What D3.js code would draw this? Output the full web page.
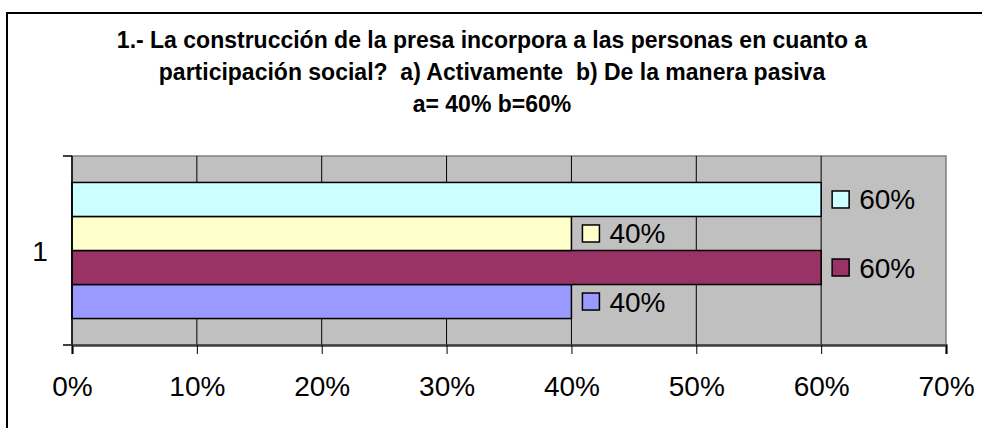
<!DOCTYPE html>
<html>
<head>
<meta charset="utf-8">
<script src="https://cdn.jsdelivr.net/npm/d3@7"></script>
<style>
  body { margin: 0; background: #fff; }
  svg { display: block; font-family: "Liberation Sans", Arial, sans-serif; }
</style>
</head>
<body>
<script>
// chart data (series listed bottom to top, like excel draws them)
const categories = ["1"];
const seriesNames = ["Serie1", "Serie2", "Serie3", "Serie4"];
const seriesValues = [40, 60, 40, 60];
const seriesColors = ["#9999ff", "#993366", "#ffffcc", "#ccffff"];
const xTicks = [0, 10, 20, 30, 40, 50, 60, 70];
const titleLines = [
  "1.- La construcción de la presa incorpora a las personas en cuanto a",
  "participación social?  a) Activamente  b) De la manera pasiva",
  "a= 40% b=60%"
];

const width = 982;
const height = 428;
const plot = { left: 72, right: 946, top: 156, bottom: 345 };

const svg = d3.select("body")
  .append("svg")
  .attr("width", width)
  .attr("height", height);

// outer frame of the chart
svg.append("rect")
  .attr("x", 7)
  .attr("y", 13)
  .attr("width", 1000)
  .attr("height", 500)
  .attr("fill", "#fff")
  .attr("stroke", "#000")
  .attr("stroke-width", 2);

// title
svg.append("g")
  .selectAll("text")
  .data(titleLines)
  .join("text")
  .attr("x", 492)
  .attr("y", (d, i) => 48 + i * 32)
  .attr("text-anchor", "middle")
  .attr("font-size", "23px")
  .attr("font-weight", "bold")
  .attr("fill", "#000")
  .style("white-space", "pre")
  .attr("xml:space", "preserve")
  .text((d) => d);

const x = d3.scaleLinear()
  .domain([0, 70])
  .range([plot.left, plot.right]);

const y = d3.scaleBand()
  .domain(categories)
  .range([plot.top, plot.bottom]);

// plot background
svg.append("rect")
  .attr("x", plot.left)
  .attr("y", plot.top)
  .attr("width", plot.right - plot.left)
  .attr("height", plot.bottom - plot.top)
  .attr("fill", "#c0c0c0")
  .attr("stroke", "#808080")
  .attr("stroke-width", 1.5);

// vertical gridlines
svg.append("g")
  .selectAll("line")
  .data(xTicks.slice(1, -1))
  .join("line")
  .attr("x1", (d) => x(d))
  .attr("x2", (d) => x(d))
  .attr("y1", plot.top)
  .attr("y2", plot.bottom)
  .attr("stroke", "#000")
  .attr("stroke-width", 1);

// bars, stacked inside the category band from the bottom up
const bars = seriesNames.map((s, i) => ({ name: s, value: seriesValues[i], color: seriesColors[i] }));
const bandH = (plot.bottom - plot.top) * 0.72 / bars.length;
const bandBottom = y(categories[0]) + y.bandwidth() * 0.86;

svg.append("g")
  .selectAll("rect")
  .data(bars)
  .join("rect")
  .attr("x", x(0))
  .attr("y", (d, i) => bandBottom - (i + 1) * bandH)
  .attr("width", (d) => x(d.value) - x(0))
  .attr("height", bandH)
  .attr("fill", (d) => d.color)
  .attr("stroke", "#000")
  .attr("stroke-width", 1.5);

// data labels with legend key
const labels = svg.append("g")
  .selectAll("g")
  .data(bars)
  .join("g")
  .attr("transform", (d, i) => {
    const cy = bandBottom - (i + 0.5) * bandH;
    return `translate(${x(d.value) + 10},${cy})`;
  });

labels.append("rect")
  .attr("x", 1)
  .attr("y", -8.5)
  .attr("width", 17)
  .attr("height", 17)
  .attr("fill", (d) => d.color)
  .attr("stroke", "#000")
  .attr("stroke-width", 1.5);

labels.append("text")
  .attr("x", 28)
  .attr("y", 10)
  .attr("font-size", "28px")
  .attr("fill", "#000")
  .text((d) => d.value + "%");

// left axis
svg.append("line")
  .attr("x1", plot.left)
  .attr("x2", plot.left)
  .attr("y1", plot.top)
  .attr("y2", plot.bottom)
  .attr("stroke", "#000")
  .attr("stroke-width", 1.5);

svg.append("g")
  .selectAll("line")
  .data([plot.top, plot.bottom])
  .join("line")
  .attr("x1", plot.left - 9)
  .attr("x2", plot.left)
  .attr("y1", (d) => d)
  .attr("y2", (d) => d)
  .attr("stroke", "#000")
  .attr("stroke-width", 1.5);

svg.append("text")
  .attr("x", 40)
  .attr("y", y(categories[0]) + y.bandwidth() / 2 + 10)
  .attr("text-anchor", "middle")
  .attr("font-size", "28px")
  .attr("fill", "#000")
  .text(categories[0]);

// bottom axis
const xAxis = d3.axisBottom(x)
  .tickValues(xTicks)
  .tickSize(9)
  .tickPadding(22)
  .tickFormat((d) => d + "%");

const gx = svg.append("g")
  .attr("transform", `translate(0,${plot.bottom})`)
  .call(xAxis);

gx.select(".domain")
  .attr("stroke", "#404040")
  .attr("stroke-width", 2.5);
gx.selectAll(".tick line").attr("stroke", "#000").attr("stroke-width", 1);
gx.selectAll(".tick text")
  .attr("font-size", "28px")
  .attr("font-family", "Liberation Sans, Arial, sans-serif")
  .attr("fill", "#000");
</script>
</body>
</html>
